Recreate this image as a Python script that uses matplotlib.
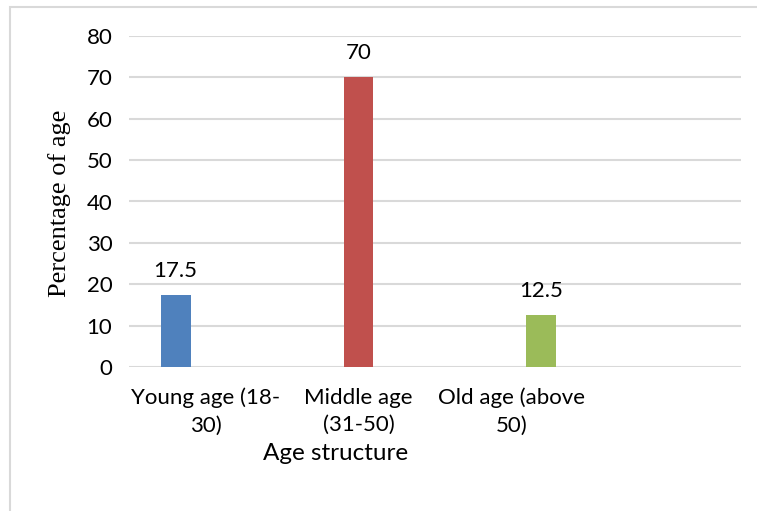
import matplotlib
matplotlib.use("Agg")
import matplotlib.pyplot as plt
from matplotlib.patches import Rectangle

# Data
categories = ["Young age (18-\n30)", "Middle age\n(31-50)", "Old age (above\n50)", ""]
series_names = ["Young age", "Middle age", "Old age"]
values = [17.5, 70, 12.5]
colors = ["#4F81BD", "#C0504D", "#9BBB59"]
y_ticks = [0, 10, 20, 30, 40, 50, 60, 70, 80]

W, H = 757, 511
fig = plt.figure(figsize=(W / 100, H / 100), dpi=100)
fig.patch.set_facecolor("white")

# Chart-area border
fig.add_artist(Rectangle((10 / W, -0.05), 1.1, 1 - 7 / H + 0.05,
                         transform=fig.transFigure, fill=False,
                         edgecolor="#d9d9d9", linewidth=1.5))

ax = fig.add_axes([129 / W, 1 - 367 / H, (741 - 129) / W, (367 - 36) / H])
ax.set_xlim(-0.5, len(categories) - 0.5)
ax.set_ylim(0, 80)

bar_w = 0.196
n_series = len(series_names)
for i, (name, v, c) in enumerate(zip(series_names, values, colors)):
    x = i + (i - (n_series - 1) / 2) * bar_w
    ax.bar(x, v, width=bar_w, color=c, zorder=3, label=name)
    ax.annotate(f"{v:g}", (x, v), xytext=(0, 10), textcoords="offset points",
                ha="center", va="bottom", fontsize=16, family="Lato",
                color="#000000")

ax.set_yticks(y_ticks)
ax.yaxis.grid(True, color="#d9d9d9", linewidth=1.5, zorder=0)
ax.set_axisbelow(True)
for s in ax.spines.values():
    s.set_visible(False)
ax.tick_params(axis="both", length=0)
ax.tick_params(axis="y", pad=12)
ax.tick_params(axis="x", pad=15)
ax.set_xticks(range(len(categories)))
ax.set_xticklabels(categories, linespacing=1.45)
for lbl in ax.get_xticklabels() + ax.get_yticklabels():
    lbl.set_fontfamily("Lato")
    lbl.set_fontsize(16)
    lbl.set_color("#000000")

fig.text(336 / W, 1 - 453 / H, "Age structure", ha="center", va="center",
         fontsize=17.5, family="Lato")
fig.text(60 / W, 1 - 203 / H, "Percentage of age", ha="center", va="center",
         rotation=90, fontsize=19, family="Liberation Serif")

fig.savefig("out.png", dpi=100)
